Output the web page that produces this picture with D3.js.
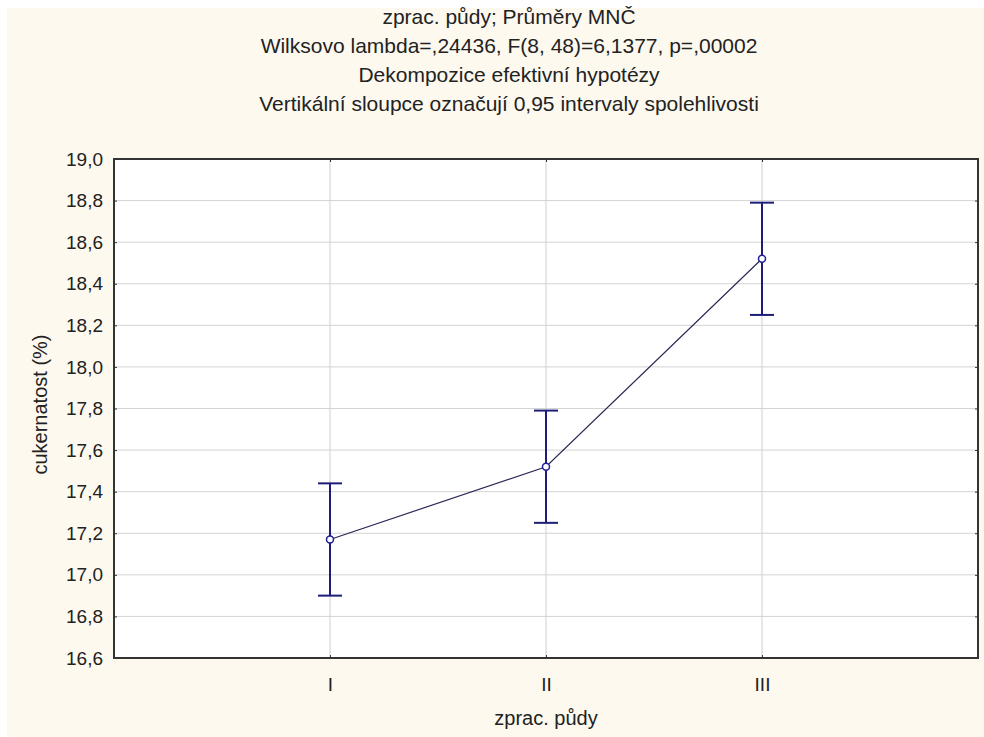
<!DOCTYPE html>
<html>
<head>
<meta charset="utf-8">
<script src="https://cdn.jsdelivr.net/npm/d3@7"></script>
<style>
  body { margin: 0; background: #ffffff; }
  svg { display: block; }
  text { font-family: "Liberation Sans", Arial, sans-serif; fill: #222; }
</style>
</head>
<body>
<svg></svg>
<script>
const width = 984;
const height = 737;

// data
const groups = ['I', 'II', 'III'];
const means = [17.17, 17.52, 18.52];
const lower = [16.90, 17.25, 18.25];
const upper = [17.44, 17.79, 18.79];
const yTicks = [16.6, 16.8, 17.0, 17.2, 17.4, 17.6, 17.8, 18.0, 18.2, 18.4, 18.6, 18.8, 19.0];
const titles = [
	'zprac. půdy; Průměry MNČ',
	'Wilksovo lambda=,24436, F(8, 48)=6,1377, p=,00002',
	'Dekompozice efektivní hypotézy',
	'Vertikální sloupce označují 0,95 intervaly spolehlivosti'
];
const xTitle = 'zprac. půdy';
const yTitle = 'cukernatost (%)';

const margin = {top: 159, right: 6, bottom: 79, left: 114};
const pw = width - margin.left - margin.right;
const ph = height - margin.top - margin.bottom;

const locale = d3.formatLocale({decimal: ',', thousands: ' ', grouping: [3], currency: ['', '']});
const fmt = locale.format('.1f');

var svg = d3.select('svg').attr('width', width).attr('height', height);

// cream panel
svg.append('rect')
	.attr('x', 7).attr('y', 8)
	.attr('width', width - 7).attr('height', height - 8)
	.attr('fill', '#fdf9ef');

// titles
svg.append('g').selectAll('text')
	.data(titles).enter().append('text')
	.attr('x', 509)
	.attr('y', (d, i) => 24 + i * 29)
	.attr('text-anchor', 'middle')
	.style('font-size', '21px')
	.text(d => d);

var g = svg.append('g').attr('transform', `translate(${margin.left},${margin.top})`);

var x = d3.scalePoint().domain(groups).range([0, pw]).padding(1);
var y = d3.scaleLinear().domain([16.6, 19.0]).range([ph, 0]);

g.append('rect').attr('width', pw).attr('height', ph).attr('fill', '#ffffff');

// grid
g.append('g').selectAll('line')
	.data(yTicks.slice(1, -1)).enter().append('line')
	.attr('x1', 0).attr('x2', pw)
	.attr('y1', d => y(d)).attr('y2', d => y(d))
	.attr('stroke', '#d4d4d4').attr('stroke-width', 1);

g.append('g').selectAll('line')
	.data(groups).enter().append('line')
	.attr('x1', d => x(d)).attr('x2', d => x(d))
	.attr('y1', 0).attr('y2', ph)
	.attr('stroke', '#cfcfd8').attr('stroke-width', 1);

// axes
var yAxis = g.append('g')
	.call(d3.axisLeft(y).tickValues(yTicks).tickFormat(fmt).tickSizeInner(-3).tickSizeOuter(0).tickPadding(11));
var yAxisR = g.append('g').attr('transform', `translate(${pw},0)`)
	.call(d3.axisRight(y).tickValues(yTicks).tickFormat('').tickSizeInner(-3).tickSizeOuter(0));
var xAxis = g.append('g').attr('transform', `translate(0,${ph})`)
	.call(d3.axisBottom(x).tickSizeInner(-3).tickSizeOuter(0).tickPadding(20));
var xAxisT = g.append('g')
	.call(d3.axisTop(x).tickFormat('').tickSizeInner(-3).tickSizeOuter(0));

[yAxis, yAxisR, xAxis, xAxisT].forEach(a => {
	a.select('.domain').remove();
	a.selectAll('.tick line').attr('stroke', '#333');
	a.selectAll('.tick text')
		.style('font-family', '"Liberation Sans", Arial, sans-serif')
		.style('font-size', '19px').attr('fill', '#222');
});

// frame
g.append('rect').attr('width', pw).attr('height', ph)
	.attr('fill', 'none').attr('stroke', '#333').attr('stroke-width', 2);

// axis titles
svg.append('text')
	.attr('x', margin.left + pw / 2).attr('y', 725)
	.attr('text-anchor', 'middle')
	.style('font-size', '20px')
	.text(xTitle);

svg.append('text')
	.attr('transform', `translate(47,${margin.top + ph / 2 - 4}) rotate(-90)`)
	.attr('text-anchor', 'middle')
	.style('font-size', '20px')
	.text(yTitle);

// connecting line
var line = d3.line().x((d, i) => x(groups[i])).y(d => y(d));
g.append('path').datum(means)
	.attr('d', line)
	.attr('fill', 'none').attr('stroke', '#2a2a55').attr('stroke-width', 1.2);

// error bars
var bars = g.append('g').selectAll('g')
	.data(groups).enter().append('g');
bars.append('line')
	.attr('x1', d => x(d)).attr('x2', d => x(d))
	.attr('y1', (d, i) => y(lower[i])).attr('y2', (d, i) => y(upper[i]))
	.attr('stroke', '#1e1e78').attr('stroke-width', 2);
bars.append('line')
	.attr('x1', d => x(d) - 12).attr('x2', d => x(d) + 12)
	.attr('y1', (d, i) => y(upper[i])).attr('y2', (d, i) => y(upper[i]))
	.attr('stroke', '#1e1e78').attr('stroke-width', 2);
bars.append('line')
	.attr('x1', d => x(d) - 12).attr('x2', d => x(d) + 12)
	.attr('y1', (d, i) => y(lower[i])).attr('y2', (d, i) => y(lower[i]))
	.attr('stroke', '#1e1e78').attr('stroke-width', 2);

// mean markers
g.append('g').selectAll('circle')
	.data(means).enter().append('circle')
	.attr('cx', (d, i) => x(groups[i])).attr('cy', d => y(d))
	.attr('r', 3.5)
	.attr('fill', '#ffffff').attr('stroke', '#1e1e9a').attr('stroke-width', 1.5);
</script>
</body>
</html>
